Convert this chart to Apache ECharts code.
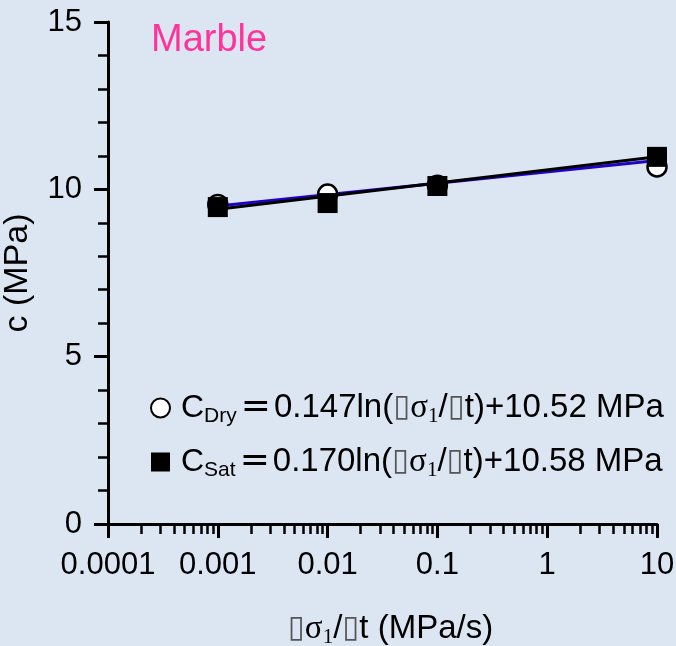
<!DOCTYPE html>
<html>
<head>
<meta charset="utf-8">
<script src="https://cdn.jsdelivr.net/npm/echarts@6/dist/echarts.min.js"></script>
<style>
  html, body { margin: 0; padding: 0; background: #dce6f2; }
  #chart { width: 676px; height: 646px; }
</style>
</head>
<body>
<div id="chart"></div>
<script>
// Loading rates (MPa/s) and cohesion c (MPa) for dry and saturated marble
const rates = [0.001, 0.01, 0.1, 10];
const cDry = [9.55, 9.86, 10.12, 10.67];
const cSat = [9.47, 9.59, 10.10, 10.97];

// Logarithmic fits: c = a * ln(rate) + b
const fitDry = { a: 0.147, b: 10.52 };
const fitSat = { a: 0.170, b: 10.58 };
const fitRange = [0.001, 10];

const xTickLabels = ['0.0001', '0.001', '0.01', '0.1', '1', '10'];
const xMin = 0.0001, xMax = 10;
const yMin = 0, yMax = 15, yStep = 5;

const SANS = 'Liberation Sans';
const SERIF = 'Liberation Serif';

// minor ticks at 2..9 of each decade
const xMinorTicks = [];
for (let e = -4; e < 1; e++) {
  for (let m = 2; m <= 9; m++) xMinorTicks.push(+(m * Math.pow(10, e)).toPrecision(3));
}

const rich = {
  c:   { fontSize: 32, fontFamily: SANS, color: '#000', lineHeight: 38, padding: [0, 0, 0, 6] },
  sub: { fontSize: 21, fontFamily: SANS, color: '#000', lineHeight: 21, verticalAlign: 'bottom' },
  eq:  { fontSize: 36, fontFamily: 'DejaVu Sans', color: '#000', lineHeight: 38, padding: [0, 3, 0, 4] },
  t:   { fontSize: 33, fontFamily: SANS, color: '#000', lineHeight: 38 },
  sig: { fontSize: 33, fontFamily: SERIF, color: '#000', lineHeight: 38 },
  s1:  { fontSize: 21, fontFamily: SERIF, color: '#000', lineHeight: 21, verticalAlign: 'bottom' },
  box: { fontSize: 31, fontFamily: 'DejaVu Sans', color: '#555', lineHeight: 38 }
};

function fitLabel(sym, fit) {
  return '{c|C}{sub|' + sym + '}{eq|=}{t|' + fit.a.toFixed(3) + 'ln(}{box|▯}{sig|σ}{s1|1}{t|/}{box|▯}{t|t)+' +
    fit.b.toFixed(2) + ' MPa}';
}
const legendText = { Dry: fitLabel('Dry', fitDry), Sat: fitLabel('Sat', fitSat) };

function fitLine(fit) {
  return fitRange.map(x => [x, fit.a * Math.log(x) + fit.b]);
}

const chart = echarts.init(document.getElementById('chart'), null, { renderer: 'canvas' });
chart.setOption({
  backgroundColor: '#dce6f2',
  animation: false,
  title: {
    text: 'Marble',
    left: 146,
    top: 17,
    textStyle: { fontSize: 38, fontWeight: 'normal', color: '#ff3399', fontFamily: SANS }
  },
  grid: { left: 108, right: 19, top: 22, bottom: 122, containLabel: false, outerBoundsMode: 'none' },
  legend: {
    data: ['Dry', 'Sat'],
    orient: 'vertical',
    left: 145,
    top: 385,
    itemGap: 17,
    itemWidth: 19,
    itemHeight: 19,
    selectedMode: false,
    formatter: name => legendText[name],
    textStyle: { fontSize: 33, fontFamily: SANS, color: '#000', rich: rich }
  },
  xAxis: [
    {
      type: 'log',
      logBase: 10,
      min: xMin,
      max: xMax,
      position: 'bottom',
      name: '{box|▯}{sig|σ}{s1|1}{t|/}{box|▯}{t|t (MPa/s)}',
      nameLocation: 'middle',
      nameGap: 86,
      nameTextStyle: { rich: rich, padding: [0, 0, 0, 16] },
      axisLine: { lineStyle: { color: '#000', width: 3 } },
      axisTick: { length: 14, lineStyle: { color: '#000', width: 3 } },
      axisLabel: {
        interval: 0,
        margin: 26,
        fontSize: 31,
        fontFamily: SANS,
        color: '#000',
        showMinLabel: true,
        showMaxLabel: true,
        formatter: v => xTickLabels[Math.round(Math.log10(v)) + 4]
      },
      splitLine: { show: false },
      minorTick: { show: false }
    },
    {
      type: 'log',
      logBase: 10,
      min: xMin,
      max: xMax,
      position: 'bottom',
      axisLine: { show: false },
      axisLabel: { show: false },
      axisTick: { customValues: xMinorTicks, length: 10, lineStyle: { color: '#000', width: 2.5 } },
      splitLine: { show: false }
    }
  ],
  yAxis: {
    type: 'value',
    min: yMin,
    max: yMax,
    interval: yStep,
    name: 'c (MPa)',
    nameLocation: 'middle',
    nameRotate: 90,
    nameGap: 49,
    nameTextStyle: { fontSize: 34, fontFamily: SANS, color: '#000', lineHeight: 38 },
    axisLine: { show: true, lineStyle: { color: '#000', width: 3 } },
    axisTick: { show: true, length: 14, lineStyle: { color: '#000', width: 3 } },
    minorTick: { show: true, splitNumber: 5, length: 10, lineStyle: { color: '#000', width: 2.5 } },
    axisLabel: { margin: 26, fontSize: 31, fontFamily: SANS, color: '#000' },
    splitLine: { show: false }
  },
  series: [
    {
      name: 'Dry fit', type: 'line', data: fitLine(fitDry), showSymbol: false, silent: true,
      lineStyle: { color: '#2200cc', width: 3 }, z: 2
    },
    {
      name: 'Sat fit', type: 'line', data: fitLine(fitSat), showSymbol: false, silent: true,
      lineStyle: { color: '#000', width: 3 }, z: 2
    },
    {
      name: 'Dry', type: 'scatter', symbol: 'circle', symbolSize: 19,
      data: rates.map((r, i) => [r, cDry[i]]),
      itemStyle: { color: '#fff', borderColor: '#000', borderWidth: 2.5, opacity: 1 }, z: 3
    },
    {
      name: 'Sat', type: 'scatter', symbol: 'rect', symbolSize: 20,
      data: rates.map((r, i) => [r, cSat[i]]),
      itemStyle: { color: '#000', opacity: 1 }, z: 4
    }
  ]
});
</script>
</body>
</html>
